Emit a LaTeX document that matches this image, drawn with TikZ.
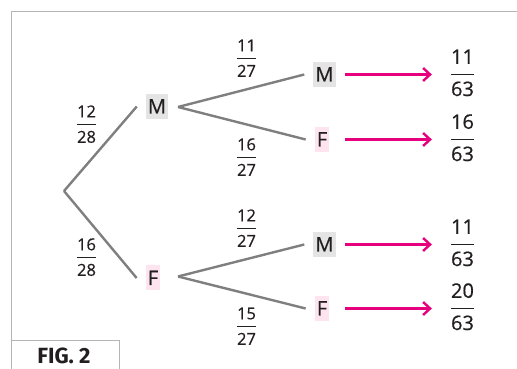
\documentclass[tikz,border=0pt]{standalone}
\usepackage{fontspec}
\setmainfont{Open Sans}[FakeBold=0.6]
\newfontfamily\captionfont{Fira Sans}
\usetikzlibrary{arrows.meta}

\definecolor{ink}{HTML}{231F20}
\definecolor{branchgray}{HTML}{7F7F7F}
\definecolor{framegray}{HTML}{B5B5B5}
\definecolor{mbg}{HTML}{E4E4E4}
\definecolor{fbg}{HTML}{FDE4EE}
\definecolor{arrowpink}{HTML}{E6007E}

\setlength\arrayrulewidth{1pt}
% stacked fraction: [gap under numerator]{numerator}{denominator}
\newcommand\stackfrac[3][1.2pt]{\begin{tabular}{@{}c@{}}#2\\[#1]\hline\rule{0pt}{1.05em}#3\end{tabular}}

\tikzset{
  x=1pt, y=1pt,
  frameline/.style={draw=framegray, line width=1pt},
  branch/.style={draw=branchgray, line width=2.4pt},
  result/.style={-{Straight Barb[length=7pt,width=13pt]}, draw=arrowpink, line width=2.4pt},
  sex/.style={inner xsep=2pt, inner ysep=5.5pt, text height=14pt, text depth=0pt,
              text=ink, font=\fontsize{20pt}{24pt}\selectfont},
  male/.style={sex, fill=mbg},
  female/.style={sex, fill=fbg},
  prob/.style={inner sep=0pt, text=ink, font=\fontsize{16.5pt}{19.8pt}\selectfont},
  final/.style={inner sep=0pt, text=ink, font=\fontsize{20pt}{24pt}\selectfont},
}

\begin{document}
\begin{tikzpicture}
\useasboundingbox (0,0) rectangle (517,369);

% frame and caption tab
\draw[frameline] (11,0) -- (11,357) -- (517,357);
\draw[frameline] (11,28) -- (119,28) -- (119,0);
\node[anchor=base, text=ink, inner sep=0pt, font=\captionfont\bfseries\fontsize{22pt}{26pt}\selectfont] (fig) at (64,5) {FIG. 2};

% first stage
\coordinate (root) at (64,178);
\node[male]   (m1) at (157,262.5) {M};
\node[female] (f1) at (153,91) {F};
\draw[branch] (root) -- ([xshift=-9pt]m1.west);
\draw[branch] (root) -- ([xshift=-9pt]f1.west);
\node[prob] (p1) at (86.5,242.9) {\stackfrac{12}{28}};
\node[prob] (p2) at (86.5,109.9) {\stackfrac{16}{28}};

% second stage
\coordinate (forkm) at (178,262);
\coordinate (forkf) at (178,92.5);
\node[male]   (mm) at (324.5,294.5) {M};
\node[female] (mf) at (322,229.5) {F};
\node[male]   (fm) at (324.5,124.5) {M};
\node[female] (ff) at (322,60.5) {F};
\draw[branch] (forkm) -- ([xshift=-9pt]mm.west);
\draw[branch] (forkm) -- ([xshift=-9pt]mf.west);
\draw[branch] (forkf) -- ([xshift=-9pt]fm.west);
\draw[branch] (forkf) -- ([xshift=-9pt]ff.west);
\node[prob] (p3) at (246.5,308.9) {\stackfrac{11}{27}};
\node[prob] (p4) at (246.5,209.9) {\stackfrac{16}{27}};
\node[prob] (p5) at (246.5,138.9) {\stackfrac{12}{27}};
\node[prob] (p6) at (246.5,40.9)  {\stackfrac{15}{27}};

% outcomes
\node[final] (r1) at (462.5,293.9) {\stackfrac[3pt]{11}{63}};
\node[final] (r2) at (462.5,228.9) {\stackfrac[3pt]{16}{63}};
\node[final] (r3) at (462.5,123.9) {\stackfrac[3pt]{11}{63}};
\node[final] (r4) at (462.5,59.9)  {\stackfrac[3pt]{20}{63}};

\coordinate (astart) at (345,0);
\draw[result] (mm.center -| astart) -- ([xshift=-19pt]mm.center -| r1.west);
\draw[result] (mf.center -| astart) -- ([xshift=-19pt]mf.center -| r2.west);
\draw[result] (fm.center -| astart) -- ([xshift=-19pt]fm.center -| r3.west);
\draw[result] (ff.center -| astart) -- ([xshift=-19pt]ff.center -| r4.west);
\end{tikzpicture}
\end{document}
